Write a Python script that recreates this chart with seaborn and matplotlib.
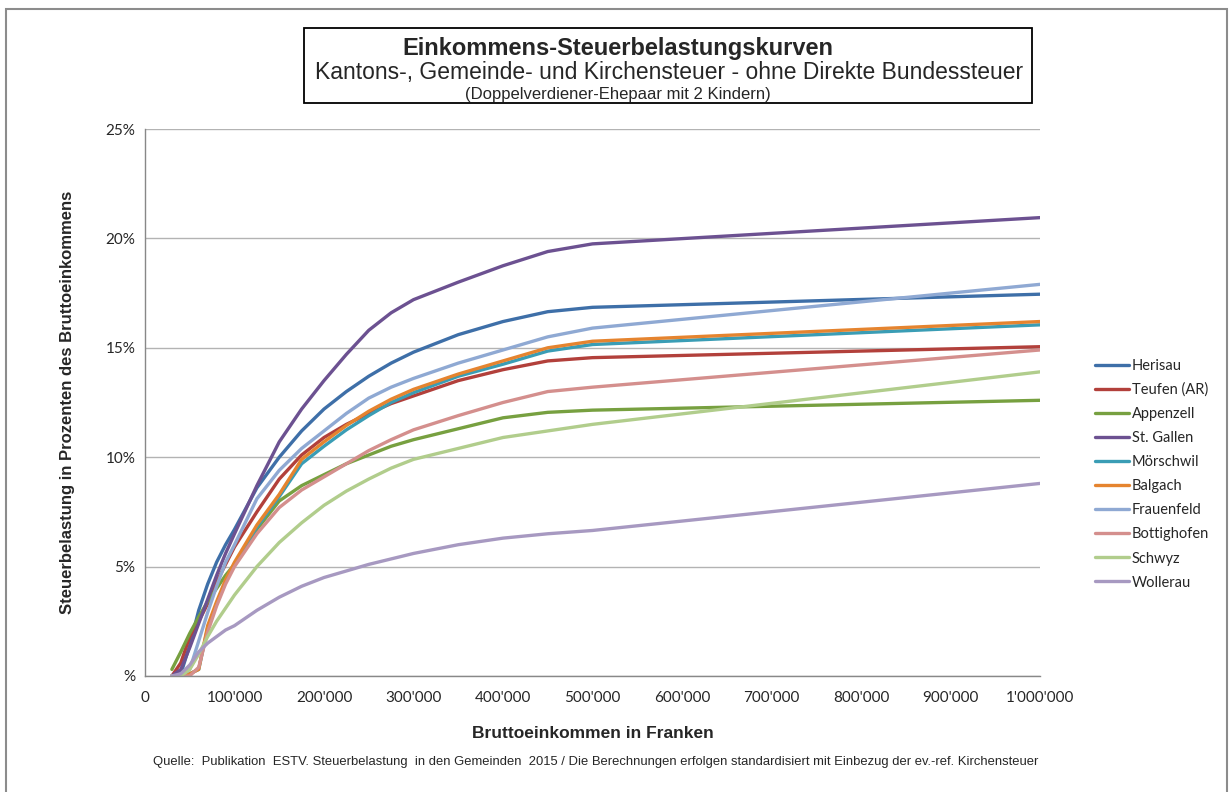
import numpy as np
import pandas as pd
import matplotlib
matplotlib.use("Agg")
import matplotlib.pyplot as plt
from matplotlib.patches import Rectangle
import seaborn as sns

# income levels (Franken)
income = [30000, 40000, 50000, 60000, 70000, 80000, 90000, 100000, 125000, 150000,
          175000, 200000, 225000, 250000, 275000, 300000, 350000, 400000, 450000, 500000, 1000000]

# tax burden in % of gross income
herisau     = [0.0, 0.1, 1.4, 3.0, 4.2, 5.2, 6.0, 6.7, 8.6, 10.0, 11.2, 12.2, 13.0, 13.7, 14.3, 14.8, 15.6, 16.2, 16.65, 16.85, 17.45]
teufen      = [0.0, 0.6, 1.8, 2.5, 3.3, 4.3, 5.1, 5.9, 7.5, 9.0, 10.1, 10.9, 11.5, 12.0, 12.45, 12.8, 13.5, 14.0, 14.4, 14.55, 15.05]
appenzell   = [0.3, 1.1, 1.95, 2.7, 3.4, 4.0, 4.6, 5.1, 6.7, 8.0, 8.7, 9.2, 9.7, 10.1, 10.5, 10.8, 11.3, 11.8, 12.05, 12.15, 12.6]
st_gallen   = [0.0, 0.3, 1.3, 2.4, 3.5, 4.6, 5.6, 6.5, 8.7, 10.7, 12.2, 13.5, 14.7, 15.8, 16.6, 17.2, 18.0, 18.75, 19.4, 19.75, 20.95]
moerschwil  = [0.0, 0.0, 0.1, 0.3, 2.2, 3.3, 4.3, 5.1, 6.8, 8.2, 9.7, 10.5, 11.25, 11.9, 12.5, 12.95, 13.7, 14.25, 14.85, 15.15, 16.05]
balgach     = [0.0, 0.0, 0.1, 0.3, 2.3, 3.4, 4.4, 5.2, 6.9, 8.3, 9.9, 10.7, 11.45, 12.1, 12.65, 13.1, 13.8, 14.4, 15.0, 15.3, 16.2]
frauenfeld  = [0.0, 0.0, 0.3, 1.6, 2.9, 4.1, 5.2, 6.0, 8.1, 9.4, 10.4, 11.2, 12.0, 12.7, 13.2, 13.6, 14.3, 14.9, 15.5, 15.9, 17.9]
bottighofen = [0.0, 0.0, 0.0, 0.4, 2.0, 3.2, 4.2, 5.0, 6.5, 7.7, 8.5, 9.1, 9.7, 10.3, 10.8, 11.25, 11.9, 12.5, 13.0, 13.2, 14.9]
schwyz      = [0.0, 0.0, 0.3, 1.0, 1.8, 2.5, 3.1, 3.7, 5.0, 6.1, 7.0, 7.8, 8.45, 9.0, 9.5, 9.9, 10.4, 10.9, 11.2, 11.5, 13.9]
wollerau    = [0.0, 0.1, 0.5, 1.1, 1.5, 1.8, 2.1, 2.3, 3.0, 3.6, 4.1, 4.5, 4.8, 5.1, 5.35, 5.6, 6.0, 6.3, 6.5, 6.65, 8.8]

gemeinden = ["Herisau", "Teufen (AR)", "Appenzell", "St. Gallen", "Mörschwil",
             "Balgach", "Frauenfeld", "Bottighofen", "Schwyz", "Wollerau"]
farben = ["#3e6fa8", "#b2403b", "#77a040", "#6c5191", "#3a9db5",
          "#e5842f", "#8fa9d3", "#d48f8d", "#b1cd8c", "#a799c1"]

y_ticks = [0, 5, 10, 15, 20, 25]
y_labels = ["%", "5%", "10%", "15%", "20%", "25%"]
x_ticks = [0, 100000, 200000, 300000, 400000, 500000, 600000, 700000, 800000, 900000, 1000000]
x_labels = ["0", "100'000", "200'000", "300'000", "400'000", "500'000",
            "600'000", "700'000", "800'000", "900'000", "1'000'000"]

werte = [herisau, teufen, appenzell, st_gallen, moerschwil,
         balgach, frauenfeld, bottighofen, schwyz, wollerau]
df = pd.concat([pd.DataFrame({"Einkommen": income, "Belastung": v, "Gemeinde": g})
                for g, v in zip(gemeinden, werte)], ignore_index=True)

sns.set_style("white")
plt.rcParams["font.family"] = ["Liberation Sans", "DejaVu Sans"]

fig = plt.figure(figsize=(12.3, 7.92), dpi=100)
ax = fig.add_axes([0.1179, 0.1465, 0.7276, 0.6906])

sns.lineplot(data=df, x="Einkommen", y="Belastung", hue="Gemeinde",
             hue_order=gemeinden, palette=farben, linewidth=2.4, ax=ax)

ax.set_xlim(0, 1000000)
ax.set_ylim(0, 25)
ax.set_xticks(x_ticks)
ax.set_xticklabels(x_labels, fontfamily="Lato", fontsize=11)
ax.set_yticks(y_ticks)
ax.set_yticklabels(y_labels, fontfamily="Lato", fontsize=11)
ax.grid(axis="y", color="#b3b3b3", linewidth=1)
ax.set_axisbelow(True)
ax.tick_params(axis="both", direction="out", length=5, color="#888888", width=1)
ax.tick_params(axis="x", pad=6)
ax.tick_params(axis="y", pad=2)
for s in ["top", "right"]:
    ax.spines[s].set_visible(False)
for s in ["left", "bottom"]:
    ax.spines[s].set_color("#888888")
    ax.spines[s].set_linewidth(1)

ax.set_xlabel("Bruttoeinkommen in Franken", fontsize=12.5, fontweight="bold", labelpad=15)
ax.set_ylabel("Steuerbelastung in Prozenten des Bruttoeinkommens", fontsize=12,
              fontweight="bold", labelpad=22)

leg = ax.legend(loc="center left", bbox_to_anchor=(1.047, 0.369), frameon=False,
                prop={"family": "Lato", "size": 10.5}, handlelength=2.3,
                handletextpad=0.2, labelspacing=0.69)
for h in leg.get_lines():
    h.set_linewidth(2.4)

# title box
fig.patches.append(Rectangle((0.2472, 0.8699), 0.5919, 0.0947, transform=fig.transFigure,
                             fill=False, edgecolor="black", linewidth=1.3))
fig.text(0.5024, 0.939, "Einkommens-Steuerbelastungskurven", ha="center", va="center",
         fontsize=17, fontweight="bold")
fig.text(0.5439, 0.9084, "Kantons-, Gemeinde- und Kirchensteuer - ohne Direkte Bundessteuer",
         ha="center", va="center", fontsize=16.5)
fig.text(0.5024, 0.8813, "(Doppelverdiener-Ehepaar mit 2 Kindern)", ha="center", va="center",
         fontsize=12)

fig.text(0.4846, 0.038, "Quelle:  Publikation  ESTV. Steuerbelastung  in den Gemeinden  2015 / "
         "Die Berechnungen erfolgen standardisiert mit Einbezug der ev.-ref. Kirchensteuer",
         ha="center", va="center", fontsize=9.4)

# outer frame
fig.patches.append(Rectangle((0.0049, -0.02), 0.9927, 1.0086, transform=fig.transFigure,
                             fill=False, edgecolor="#8c8c8c", linewidth=1.5))

fig.savefig("out.png", dpi=100)
